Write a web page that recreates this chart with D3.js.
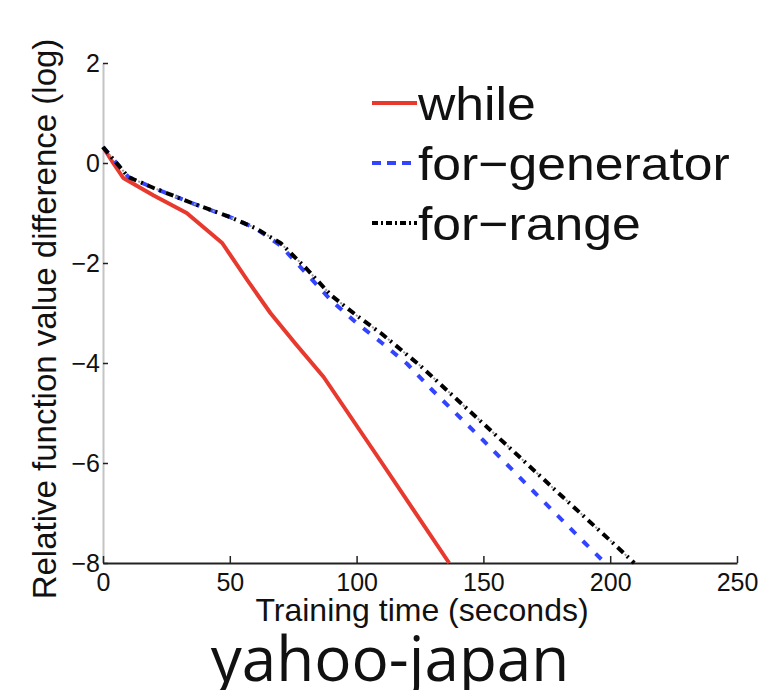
<!DOCTYPE html>
<html>
<head>
<meta charset="utf-8">
<script src="https://cdn.jsdelivr.net/npm/d3@7"></script>
<style>
  body { margin: 0; background: #fff; }
  text { font-family: "Liberation Sans", Arial, sans-serif; fill: #111; }
</style>
</head>
<body>
<script>

const svgWidth = 779;
const svgHeight = 690;

// Data (training time in seconds, log relative difference)
const seriesNames = ["while", "for\u2212generator", "for\u2212range"];
const whileTime = [0, 4, 8, 20, 33, 47, 57, 66, 76, 87, 110, 136.5];
const whileVal = [0.32, 0.0, -0.3, -0.65, -1.0, -1.6, -2.35, -3.0, -3.62, -4.28, -6.0, -8];
const genTime = [0, 10, 20, 35, 50, 60, 70, 80, 90, 100, 110, 120, 130, 150, 170, 190, 198];
const genVal = [0.32, -0.28, -0.5, -0.8, -1.08, -1.3, -1.65, -2.2, -2.75, -3.2, -3.6, -4.02, -4.55, -5.55, -6.58, -7.6, -8];
const rangeTime = [0, 10, 20, 35, 50, 60, 70, 80, 90, 100, 110, 125, 140, 160, 180, 200, 209.5];
const rangeVal = [0.32, -0.28, -0.5, -0.8, -1.08, -1.3, -1.6, -2.1, -2.65, -3.05, -3.42, -4.05, -4.75, -5.68, -6.62, -7.55, -8];
const xTicks = [0, 50, 100, 150, 200, 250];
const yTicks = [2, 0, -2, -4, -6, -8];

const svg = d3.select("body")
  .append("svg")
  .attr("width", svgWidth)
  .attr("height", svgHeight);

// plot box in pixels
const plot = { left: 103, right: 737, top: 63, bottom: 563 };

const xScale = d3.scaleLinear().domain([0, 250]).range([plot.left, plot.right]);
const yScale = d3.scaleLinear().domain([-8, 2]).range([plot.bottom, plot.top]);

// y axis
const yAxisG = svg.append("g")
  .attr("transform", `translate(${plot.left}, 0)`)
  .call(d3.axisLeft(yScale).tickValues(yTicks).tickSizeInner(-5).tickSizeOuter(0).tickPadding(3));
yAxisG.select(".domain").attr("stroke", "#c4c4c4").attr("stroke-width", 2);
yAxisG.selectAll(".tick line").attr("stroke", "#222").attr("stroke-width", 1.5);
yAxisG.selectAll(".tick text")
  .style("font-size", "25px")
  .style("font-family", "Liberation Sans, Arial, sans-serif")
  .attr("fill", "#111");

// x axis
const xAxisG = svg.append("g")
  .attr("transform", `translate(0, ${plot.bottom})`)
  .call(d3.axisBottom(xScale).tickValues(xTicks).tickSizeInner(-7).tickSizeOuter(0).tickPadding(10));
xAxisG.select(".domain").attr("stroke", "#222").attr("stroke-width", 2);
xAxisG.selectAll(".tick line").attr("stroke", "#222").attr("stroke-width", 1.5);
xAxisG.selectAll(".tick text")
  .style("font-size", "25px")
  .style("font-family", "Liberation Sans, Arial, sans-serif")
  .attr("fill", "#111");

// lines
const line = d3.line()
  .x(d => xScale(d[0]))
  .y(d => yScale(d[1]));

const series = [
  { name: seriesNames[0], pts: d3.zip(whileTime, whileVal), color: "#e8392f", dash: null },
  { name: seriesNames[1], pts: d3.zip(genTime, genVal), color: "#3344ff", dash: "8,10" },
  { name: seriesNames[2], pts: d3.zip(rangeTime, rangeVal), color: "#000", dash: "8,5,2,5" }
];

series.forEach(s => {
  if (s.name === seriesNames[2]) {
    // faint dots of the dash-dot line
    svg.append("path")
      .attr("d", line(s.pts))
      .attr("fill", "none")
      .attr("stroke", "#999")
      .attr("stroke-width", 2)
      .attr("stroke-dasharray", "0,10,2,8");
  }
  svg.append("path")
    .attr("d", line(s.pts))
    .attr("fill", "none")
    .attr("stroke", s.color)
    .attr("stroke-width", 4)
    .attr("stroke-dasharray", s.dash)
    .attr("stroke-linejoin", "round");
});

// legend
const legend = svg.append("g");
series.forEach((s, i) => {
  const y = 103 + i * 60;
  legend.append("line")
    .attr("x1", 372).attr("x2", 417)
    .attr("y1", y).attr("y2", y)
    .attr("stroke", s.color)
    .attr("stroke-width", 4)
    .attr("stroke-dasharray", i === 1 ? "9,6" : (i === 2 ? "6,3,2,3" : null));
  legend.append("text")
    .attr("transform", `translate(418, ${y + 17}) scale(1.1, 1)`)
    .style("font-size", "47px")
    .text(s.name);
});

// axis titles
svg.append("text")
  .attr("transform", `translate(56, 319) rotate(-90)`)
  .attr("text-anchor", "middle")
  .style("font-size", "33px")
  .text("Relative function value difference (log)");

svg.append("text")
  .attr("x", 422)
  .attr("y", 621)
  .attr("text-anchor", "middle")
  .style("font-size", "32px")
  .text("Training time (seconds)");

// dataset name
svg.append("text")
  .attr("x", 390)
  .attr("y", 681)
  .attr("text-anchor", "middle")
  .style("font-family", "'Open Sans', sans-serif")
  .style("font-size", "62px")
  .text("yahoo-japan");

</script>
</body>
</html>
